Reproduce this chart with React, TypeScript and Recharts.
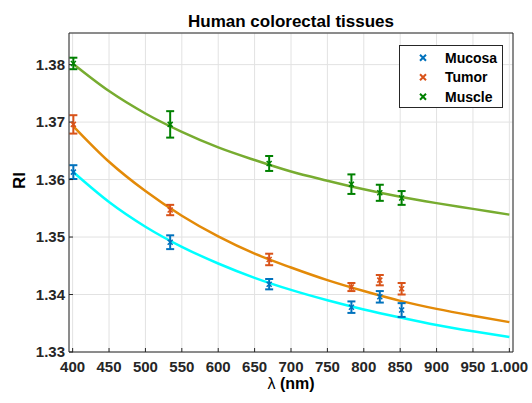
import React from 'react';
import {
  ComposedChart,
  XAxis,
  YAxis,
  CartesianGrid,
  Line,
  Scatter,
  ErrorBar,
  Legend,
  Customized,
} from 'recharts';

// ---- data ----
const seriesNames = ['Mucosa', 'Tumor', 'Muscle'];
const sampleWavelengths = [401, 534, 670, 783, 822, 852];

const mucosaRI = [1.3613, 1.3491, 1.3418, 1.3378, 1.3396, 1.3373];
const mucosaErr = [0.0012, 0.0012, 0.0009, 0.001, 0.001, 0.0012];
const tumorRI = [1.3696, 1.3547, 1.3461, 1.3413, 1.3425, 1.341];
const tumorErr = [0.0016, 0.0009, 0.001, 0.0007, 0.0009, 0.001];
const muscleRI = [1.3802, 1.3696, 1.3628, 1.3592, 1.3577, 1.3568];
const muscleErr = [0.001, 0.0023, 0.0013, 0.0017, 0.0014, 0.0012];

const fitWavelengths = [400, 450, 500, 550, 600, 650, 700, 750, 800, 850, 900, 950, 1000];
const mucosaFit = [1.3614, 1.3561, 1.3518, 1.3483, 1.3454, 1.3429, 1.3408, 1.339, 1.3374, 1.336, 1.3347, 1.3336, 1.3326];
const tumorFit = [1.3694, 1.3631, 1.358, 1.3537, 1.3501, 1.3471, 1.3447, 1.3425, 1.3406, 1.3389, 1.3375, 1.3363, 1.3352];
const muscleFit = [1.3802, 1.3754, 1.3715, 1.3683, 1.3656, 1.3634, 1.3614, 1.3598, 1.3583, 1.357, 1.3559, 1.3549, 1.3539];

const xTicks = [400, 450, 500, 550, 600, 650, 700, 750, 800, 850, 900, 950, 1000];
const xTickLabels = ['400', '450', '500', '550', '600', '650', '700', '750', '800', '850', '900', '950', '1.000'];
const yTicks = [1.33, 1.34, 1.35, 1.36, 1.37, 1.38];
const yTickLabels = ['1.33', '1.34', '1.35', '1.36', '1.37', '1.38'];

const titleText = 'Human colorectal tissues';

// ---- styles ----
const FONT = '"Liberation Sans", Arial, Helvetica, sans-serif';
const AXIS = '#262626';
const GRID = '#e2e2e2';
const markerColors = ['#0072BD', '#D95319', '#008000'];
const curveColors = ['#00FFFF', '#E38A08', '#77AC30'];

const W = 532;
const H = 403;
const PLOT_LEFT = 69;
const PLOT_RIGHT = 513;
const PLOT_TOP = 33;
const PLOT_BOTTOM = 352;
const X_DOMAIN: [number, number] = [395, 1005];
const Y_DOMAIN: [number, number] = [1.33, 1.3855];

const toPoints = (ys: number[], errs: number[]) =>
  sampleWavelengths.map((x, i) => ({ x, y: ys[i], err: errs[i] }));
const toCurve = (ys: number[]) => fitWavelengths.map((x, i) => ({ x, y: ys[i] }));

const pointSets = [toPoints(mucosaRI, mucosaErr), toPoints(tumorRI, tumorErr), toPoints(muscleRI, muscleErr)];
const curveSets = [toCurve(mucosaFit), toCurve(tumorFit), toCurve(muscleFit)];

const makeXMark = (color: string) => (props: any) => {
  const { cx, cy } = props;
  if (cx == null || cy == null) return <g />;
  const s = 2.5;
  return (
    <path
      d={`M${cx - s},${cy - s}L${cx + s},${cy + s}M${cx - s},${cy + s}L${cx + s},${cy - s}`}
      stroke={color}
      strokeWidth={1.5}
      fill="none"
    />
  );
};

const tickStyle = { fill: AXIS, fontSize: 15, fontWeight: 'bold', fontFamily: FONT };

const XLabel = (props: any) => {
  const vb = props.viewBox || {};
  const cx = vb.x + vb.width / 2;
  return (
    <text x={cx} y={vb.y + 37} textAnchor="middle" fontFamily={FONT} fontSize={16} fill="#000">
      <tspan fontWeight="normal">λ</tspan>
      <tspan fontWeight="bold"> (nm)</tspan>
    </text>
  );
};

const YLabel = (props: any) => {
  const vb = props.viewBox || {};
  const x = vb.x + 25;
  const y = vb.y + vb.height / 2 - 12;
  return (
    <text
      x={x}
      y={y}
      textAnchor="middle"
      transform={`rotate(-90 ${x} ${y})`}
      fontFamily={FONT}
      fontSize={17}
      fontWeight="bold"
      fill="#000"
    >
      RI
    </text>
  );
};

const Title = () => (
  <text
    x={(PLOT_LEFT + PLOT_RIGHT) / 2}
    y={26.5}
    textAnchor="middle"
    fontFamily={FONT}
    fontSize={17}
    fontWeight="bold"
    fill="#000"
  >
    {titleText}
  </text>
);

const LegendBox = () => (
  <div
    style={{
      width: 104,
      height: 63,
      border: `1px solid ${AXIS}`,
      background: '#fff',
      boxSizing: 'border-box',
    }}
  >
    <svg width={102} height={61} style={{ display: 'block' }}>
      {seriesNames.map((name, i) => {
        const cy = 11.7 + i * 19.5;
        const cx = 23;
        const s = 3;
        return (
          <g key={name}>
            <path
              d={`M${cx - s},${cy - s}L${cx + s},${cy + s}M${cx - s},${cy + s}L${cx + s},${cy - s}`}
              stroke={markerColors[i]}
              strokeWidth={2}
              fill="none"
            />
            <text x={45} y={cy + 5} fontFamily={FONT} fontSize={14} fontWeight="bold" fill="#000">
              {name}
            </text>
          </g>
        );
      })}
    </svg>
  </div>
);

export default function App() {
  return (
    <div style={{ position: 'absolute', left: 0, top: 0, width: W, height: H, background: '#fff' }}>
      <ComposedChart
        width={W}
        height={H}
        margin={{ top: 0, right: 0, bottom: 0, left: 0 }}
        style={{ fontFamily: FONT }}
      >
        <CartesianGrid stroke={GRID} strokeWidth={1} />
        <XAxis
          dataKey="x"
          type="number"
          domain={X_DOMAIN}
          ticks={xTicks}
          allowDataOverflow
          height={H - PLOT_BOTTOM}
          tickSize={-4}
          tickMargin={13}
          tickFormatter={(v: number, i: number) => xTickLabels[i] ?? String(v)}
          tick={tickStyle}
          axisLine={{ stroke: AXIS }}
          tickLine={{ stroke: AXIS }}
          interval={0}
          label={<XLabel />}
        />
        <XAxis
          xAxisId="top"
          orientation="top"
          type="number"
          domain={X_DOMAIN}
          ticks={xTicks}
          allowDataOverflow
          height={PLOT_TOP}
          tickSize={-4}
          tick={false}
          axisLine={{ stroke: AXIS }}
          tickLine={{ stroke: AXIS }}
          interval={0}
        />
        <YAxis
          type="number"
          domain={Y_DOMAIN}
          ticks={yTicks}
          allowDataOverflow
          width={PLOT_LEFT}
          tickSize={-4}
          tickMargin={8}
          tickFormatter={(v: number, i: number) => yTickLabels[i] ?? String(v)}
          tick={tickStyle}
          axisLine={{ stroke: AXIS }}
          tickLine={{ stroke: AXIS }}
          interval={0}
          label={<YLabel />}
        />
        <YAxis
          yAxisId="right"
          orientation="right"
          type="number"
          domain={Y_DOMAIN}
          ticks={yTicks}
          allowDataOverflow
          width={W - PLOT_RIGHT}
          tickSize={-4}
          tick={false}
          axisLine={{ stroke: AXIS }}
          tickLine={{ stroke: AXIS }}
          interval={0}
        />
        {curveSets.map((data, i) => (
          <Line
            key={`curve-${i}`}
            data={data}
            dataKey="y"
            type="monotone"
            stroke={curveColors[i]}
            strokeWidth={2.5}
            dot={false}
            activeDot={false}
            isAnimationActive={false}
            legendType="none"
          />
        ))}
        {pointSets.map((data, i) => (
          <Scatter
            key={`pts-${i}`}
            name={seriesNames[i]}
            data={data}
            dataKey="y"
            fill={markerColors[i]}
            shape={makeXMark(markerColors[i])}
            isAnimationActive={false}
          >
            <ErrorBar
              dataKey="err"
              direction="y"
              width={4}
              strokeWidth={2}
              stroke={markerColors[i]}
              isAnimationActive={false}
            />
          </Scatter>
        ))}
        <Legend
          layout="horizontal"
          verticalAlign="middle"
          align="center"
          content={<LegendBox />}
          wrapperStyle={{ left: 399, top: 45, width: 104, height: 63 }}
        />
        <Customized component={<Title />} />
      </ComposedChart>
    </div>
  );
}
